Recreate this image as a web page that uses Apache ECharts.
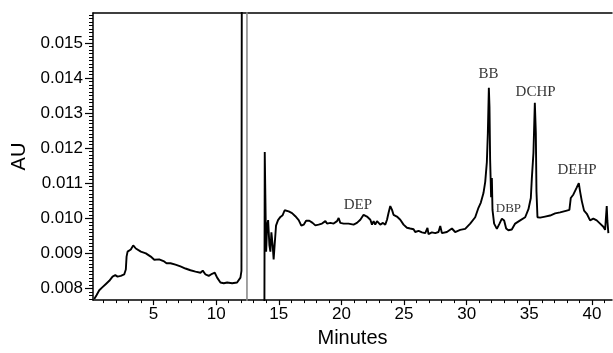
<!DOCTYPE html>
<html><head><meta charset="utf-8">
<script src="https://cdn.jsdelivr.net/npm/echarts@6/dist/echarts.min.js"></script>
<style>html,body{margin:0;padding:0;background:#fff;overflow:hidden}#c{width:613px;height:353px}</style>
</head><body><div id="c"></div>
<script>
// Chromatogram trace (minutes, AU)
const traceBefore = [[0.27,0.00770],[0.45,0.00781],[0.67,0.00795],[0.93,0.00804],[1.20,0.00813],[1.47,0.00822],[1.73,0.00834],[1.95,0.00838],[2.13,0.00834],[2.39,0.00836],[2.66,0.00840],[2.79,0.00854],[2.85,0.00891],[2.93,0.00905],[3.19,0.00911],[3.38,0.00923],[3.59,0.00914],[3.99,0.00905],[4.39,0.00900],[4.78,0.00891],[5.06,0.00882],[5.45,0.00883],[5.85,0.00877],[6.04,0.00872],[6.36,0.00872],[6.75,0.00868],[7.15,0.00863],[7.55,0.00857],[7.95,0.00852],[8.35,0.00848],[8.75,0.00845],[8.93,0.00851],[9.15,0.00840],[9.41,0.00836],[9.68,0.00842],[9.89,0.00845],[10.08,0.00831],[10.34,0.00817],[10.61,0.00815],[10.88,0.00817],[11.28,0.00815],[11.67,0.00817],[11.80,0.00813],[11.94,0.00831],[12.02,0.00850],[12.05,0.0170]];
const traceSolventDrop = [[12.46,0.0170],[12.46,0.0070]];
const traceAfter = [[13.85,0.0070],[13.88,0.01189],[13.99,0.00905],[14.07,0.00979],[14.15,0.00995],[14.25,0.00924],[14.33,0.00905],[14.41,0.00960],[14.51,0.00924],[14.59,0.00883],[14.67,0.00924],[14.78,0.00979],[14.94,0.00995],[15.13,0.01004],[15.31,0.01009],[15.47,0.01023],[15.58,0.01028],[15.79,0.01020],[16.06,0.01015],[16.32,0.01006],[16.59,0.00995],[16.80,0.00979],[16.99,0.00982],[17.18,0.00993],[17.44,0.00993],[17.70,0.00987],[17.92,0.00980],[18.18,0.00982],[18.45,0.00985],[18.72,0.00992],[18.85,0.00985],[19.12,0.00987],[19.38,0.00985],[19.65,0.00992],[19.78,0.01001],[19.91,0.00987],[20.18,0.00985],[20.57,0.00985],[20.97,0.00982],[21.24,0.00987],[21.51,0.00996],[21.77,0.01010],[21.91,0.01015],[22.04,0.01005],[22.31,0.00996],[22.44,0.00982],[22.57,0.00992],[22.70,0.00982],[22.84,0.00992],[23.10,0.00982],[23.32,0.00987],[23.50,0.00982],[23.64,0.00996],[23.76,0.01015],[23.90,0.01035],[24.04,0.01024],[24.16,0.01010],[24.43,0.01005],[24.70,0.00996],[24.96,0.00982],[25.23,0.00973],[25.49,0.00971],[25.76,0.00969],[25.89,0.00961],[26.16,0.00964],[26.43,0.00960],[26.69,0.00958],[26.87,0.00973],[26.95,0.00955],[27.22,0.00960],[27.49,0.00958],[27.75,0.00961],[27.89,0.00978],[28.02,0.00958],[28.42,0.00961],[28.82,0.00971],[29.08,0.00961],[29.48,0.00967],[29.88,0.00970],[30.28,0.00985],[30.68,0.01003],[30.94,0.01030],[31.13,0.01045],[31.34,0.01072],[31.48,0.01104],[31.61,0.01160],[31.69,0.01244],[31.77,0.01372],[31.82,0.01317],[31.87,0.01170],[31.95,0.01060],[32.01,0.01115],[32.06,0.01024],[32.19,0.00985],[32.41,0.00970],[32.62,0.00985],[32.81,0.00999],[32.99,0.00994],[33.15,0.00971],[33.33,0.00966],[33.60,0.00968],[33.87,0.00985],[34.27,0.00994],[34.67,0.01003],[34.93,0.01026],[35.12,0.01058],[35.20,0.01113],[35.33,0.01187],[35.44,0.01329],[35.52,0.01242],[35.57,0.01077],[35.65,0.01003],[35.86,0.01002],[36.26,0.01005],[36.66,0.01008],[37.06,0.01014],[37.46,0.01017],[37.99,0.01022],[38.20,0.01024],[38.31,0.01058],[38.52,0.01068],[38.79,0.01088],[38.95,0.01100],[39.05,0.01077],[39.19,0.01049],[39.37,0.01022],[39.59,0.01013],[39.85,0.00994],[40.11,0.00999],[40.38,0.00994],[40.65,0.00985],[40.91,0.00976],[41.05,0.00967],[41.18,0.01035],[41.23,0.00994],[41.31,0.00958]];

// Peak labels
const peakNames = ['DEP','BB','DBP','DCHP','DEHP'];
const peakLabelX = [21.31, 31.75, 33.33, 35.50, 38.81];
const peakLabelY = [0.01037, 0.01412, 0.01028, 0.01361, 0.01138];

// Axis ticks
const xTickLabels = [5,10,15,20,25,30,35,40];
const xMinorTicks = [1,2,3,4,6,7,8,9,11,12,13,14,16,17,18,19,21,22,23,24,26,27,28,29,31,32,33,34,36,37,38,39,41];
const yTickLabels = [0.008,0.009,0.010,0.011,0.012,0.013,0.014,0.015];
const yMinorTicks = [];
for (let k = 77; k <= 158; k++) { if (k % 10 !== 0) yMinorTicks.push(k / 10000); }

const X_MIN = 0.17, X_MAX = 41.6, Y_MIN = 0.00767, Y_MAX = 0.01585;
const black = '#000';
const chart = echarts.init(document.getElementById('c'), null, {renderer: 'canvas', width: 613, height: 353});
const lineStyleMain = {color: black, width: 1.9};
const labelData = peakNames.map((n, i) => ({
  name: n, value: [peakLabelX[i], peakLabelY[i]],
  label: {fontSize: n === 'DBP' ? 13 : 15}
}));

chart.setOption({
  animation: false,
  backgroundColor: '#fff',
  grid: {left: 93, right: 1, top: 13, bottom: 43, containLabel: false},
  xAxis: [
    {type: 'value', min: X_MIN, max: X_MAX, position: 'bottom',
     axisLine: {show: true, lineStyle: {color: black, width: 1.5}},
     axisTick: {show: true, customValues: xTickLabels, length: 5, lineStyle: {color: black, width: 1.2}},
     axisLabel: {customValues: xTickLabels, color: black, fontSize: 17, fontFamily: 'Liberation Sans', margin: 6},
     splitLine: {show: false},
     name: 'Minutes', nameLocation: 'middle', nameGap: 24,
     nameTextStyle: {color: black, fontSize: 20, fontFamily: 'Liberation Sans'}},
    {type: 'value', min: X_MIN, max: X_MAX, position: 'bottom',
     axisLine: {show: false},
     axisTick: {show: true, customValues: xMinorTicks, length: 3, lineStyle: {color: black, width: 1}},
     axisLabel: {show: false}, splitLine: {show: false}},
    {type: 'value', min: X_MIN, max: X_MAX, position: 'top',
     axisLine: {show: true, lineStyle: {color: black, width: 1.5}},
     axisTick: {show: false}, axisLabel: {show: false}, splitLine: {show: false}}
  ],
  yAxis: [
    {type: 'value', min: Y_MIN, max: Y_MAX, position: 'left',
     axisLine: {show: true, lineStyle: {color: black, width: 1.5}},
     axisTick: {show: true, customValues: yTickLabels, length: 8, lineStyle: {color: black, width: 1.2}},
     axisLabel: {customValues: yTickLabels, color: black, fontSize: 17, fontFamily: 'Liberation Sans', margin: 10,
                 formatter: v => v.toFixed(3)},
     splitLine: {show: false},
     name: 'AU', nameLocation: 'middle', nameGap: 64, nameRotate: 90,
     nameTextStyle: {color: black, fontSize: 20, fontFamily: 'Liberation Sans'}},
    {type: 'value', min: Y_MIN, max: Y_MAX, position: 'left',
     axisLine: {show: false},
     axisTick: {show: true, customValues: yMinorTicks, length: 4, lineStyle: {color: black, width: 1}},
     axisLabel: {show: false}, splitLine: {show: false}}
  ],
  series: [
    {type: 'line', data: traceBefore, showSymbol: false, clip: true, lineStyle: lineStyleMain, z: 3},
    {type: 'line', data: traceSolventDrop, showSymbol: false, clip: true, lineStyle: {color: '#8a8a8a', width: 1.6}, z: 3},
    {type: 'line', data: traceAfter, showSymbol: false, clip: true, lineStyle: lineStyleMain, z: 3},
    {type: 'scatter', data: labelData, symbolSize: 0, z: 5,
     label: {show: true, position: 'inside', color: black, fontFamily: 'Liberation Serif', fontSize: 15,
             formatter: p => p.name}}
  ]
});
</script></body></html>
